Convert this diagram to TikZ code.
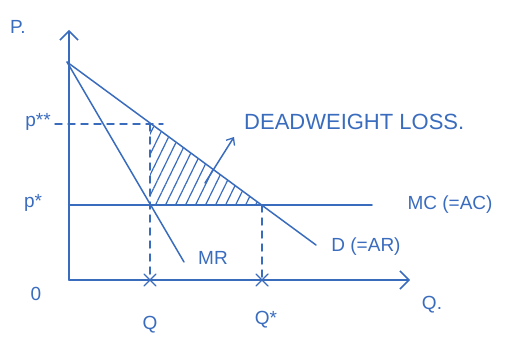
\documentclass[tikz,border=0pt]{standalone}
\usepackage{fontspec}
\setmainfont{Liberation Sans}
\usetikzlibrary{arrows.meta,patterns.meta,calc}
\definecolor{pen}{RGB}{58,108,190}
\begin{document}
\begin{tikzpicture}[x=1pt,y=-1pt,
  pen/.style={draw=pen,line width=1.5pt,line cap=round},
  guide/.style={pen,dash pattern=on 7pt off 6pt},
  lbl/.style={text=pen,font=\fontsize{19}{19}\selectfont,inner sep=0pt},
  axistip/.style={-{Straight Barb[length=9pt,width=18pt,line width=1.5pt]}},
  xmark/.style={pen,line width=1.4pt}]
\useasboundingbox (0,0) rectangle (510,339);
% key points
\coordinate (O) at (69,280);
\coordinate (ytop) at (69,30);
\coordinate (xend) at (410,280);
\coordinate (A) at (67,62);
\coordinate (Dend) at (316,245);
\coordinate (MRend) at (184,262);
\coordinate (mcstart) at (69,205);
\coordinate (mcend) at (372,205);
\coordinate (Ppp) at (150,124);
\coordinate (E1) at (150,205);
\coordinate (E2) at (262,205);
\coordinate (Qb) at (150,280);
\coordinate (Qs) at (262,280);
\coordinate (ppstart) at (55,124);
\coordinate (ppend) at (163,124);
\coordinate (dwfrom) at (205,183);
\coordinate (dwto) at (234,137);
% hatched deadweight loss
\fill[pattern={Lines[angle=64,distance=9pt,line width=1.2pt]},pattern color=pen] (Ppp) -- (E1) -- (E2) -- cycle;
% axes
\draw[pen,axistip] (O) -- (ytop);
\draw[pen,axistip] (O) -- (xend);
% curves
\draw[pen] (A) -- (Dend);
\draw[pen] (A) -- (MRend);
\draw[pen] (mcstart) -- (mcend);
% guides
\draw[guide] (ppstart) -- (ppend);
\draw[guide] (Ppp) -- (Qb);
\draw[guide] (E2) -- (Qs);
% x marks
\draw[xmark] ($(Qb)+(-6,-6)$) -- ($(Qb)+(6,6)$) ($(Qb)+(6,-6)$) -- ($(Qb)+(-6,6)$);
\draw[xmark] ($(Qs)+(-6,-6)$) -- ($(Qs)+(6,6)$) ($(Qs)+(6,-6)$) -- ($(Qs)+(-6,6)$);
% labels
\node[lbl] (lP) at (18,27) {P.};
\node[lbl] (lpp) at (38,122) {p**};
\node[lbl] (lps) at (33,203) {p*};
\node[lbl] (l0) at (36,294) {0};
\node[lbl] (lQ) at (150,325) {Q};
\node[lbl] (lQs) at (266,320) {Q*};
\node[lbl] (lQx) at (432,305) {Q.};
\node[lbl] (lMR) at (213,258) {MR};
\node[lbl] (lD) at (366,247) {D (=AR)};
\node[lbl] (lMC) at (450,205) {MC (=AC)};
\node[lbl,anchor=west,font=\fontsize{22}{22}\selectfont] (lDW) at (244,122) {DEADWEIGHT LOSS.};
\draw[pen,-{Straight Barb[length=6pt,width=10pt,line width=1.3pt]}] (dwfrom) -- (dwto);
\end{tikzpicture}
\end{document}
